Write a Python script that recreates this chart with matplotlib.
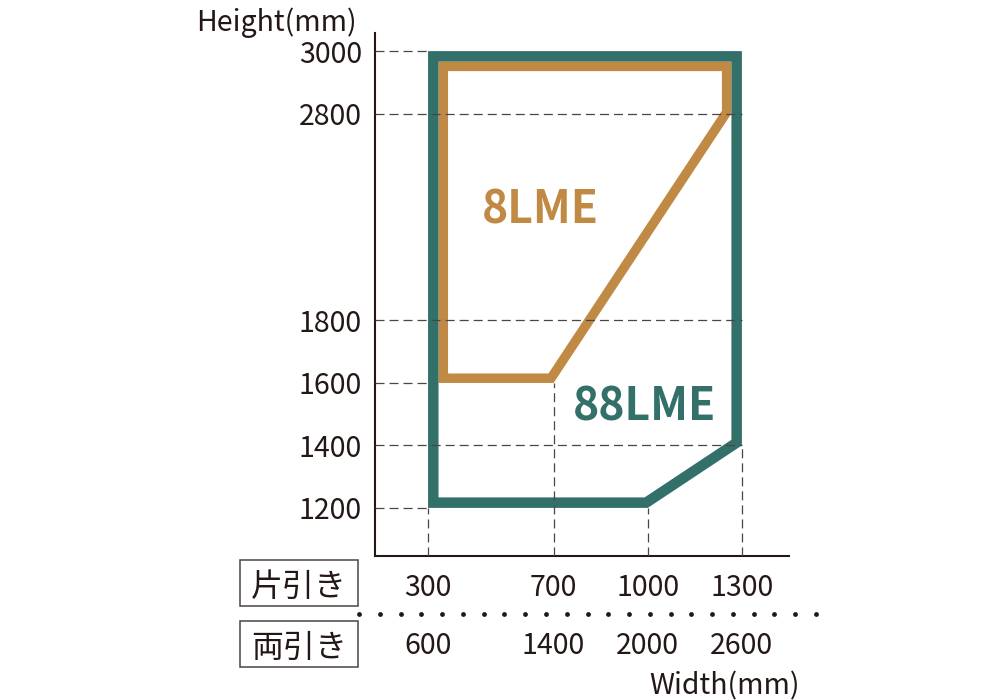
import numpy as np
import matplotlib
matplotlib.use("Agg")
import matplotlib.pyplot as plt
from matplotlib.patches import Polygon, Rectangle
from matplotlib.transforms import blended_transform_factory

plt.rcParams['font.family'] = ['Noto Sans CJK JP', 'DejaVu Sans']
plt.rcParams['lines.scale_dashes'] = False

# ---------------- data ----------------
height_ticks = [1200, 1400, 1600, 1800, 2800, 3000]
height_line_extent = [300, 1300, 300, 1300, 1300, 300]   # width to which each dashed height line reaches
width_ticks_single = [300, 700, 1000, 1300]               # 片引き
width_ticks_double = [600, 1400, 2000, 2600]              # 両引き
width_line_extent = [1200, 1600, 1200, 1400]              # height to which each dashed width line reaches

lme88_w = [300, 1000, 1300, 1300, 300]
lme88_h = [1200, 1200, 1400, 3000, 3000]
lme8_w = [300, 700, 1300, 1300, 300]
lme8_h = [1600, 1600, 2800, 3000, 3000]

row_labels = ['片引き', '両引き']
series_labels = ['8LME', '88LME']

# ---------------- style ----------------
INK = '#231815'
DASH = '#4a4646'
GREEN = '#33706a'
ORANGE = '#c08a45'
W, H = 1000, 700
FS = 20.5

fig = plt.figure(figsize=(10, 7), dpi=100)
ax = fig.add_axes([375 / W, (H - 556) / H, 414 / W, 523 / H])

# piecewise height scale (1800-2800 compressed)
_nodes = [0, 1800, 2800, 6000]
_mapped = [0, 1800, 2462.4, 5662.4]
fwd = lambda y: np.interp(y, _nodes, _mapped)
inv = lambda s: np.interp(s, _mapped, _nodes)
ax.set_yscale('function', functions=(fwd, inv))
ax.set_xlim(131, 1450)
ax.set_ylim(1046, 3058)

for s in ['top', 'right']:
    ax.spines[s].set_visible(False)
for s in ['left', 'bottom']:
    ax.spines[s].set_color(INK)
    ax.spines[s].set_linewidth(1.5)
ax.set_xticks([])
ax.set_yticks([])
ax.yaxis.set_minor_locator(matplotlib.ticker.NullLocator())
ax.set_facecolor('none')


def inset_disp(P, off):
    """Offset every edge of a CCW display-space polygon inward by `off` px."""
    n = len(P)
    lines = []
    for i in range(n):
        a, b = P[i], P[(i + 1) % n]
        d = (b - a) / np.hypot(*(b - a))
        nrm = np.array([-d[1], d[0]])
        lines.append((a + nrm * off, d))
    out = []
    for i in range(n):
        p1, d1 = lines[i - 1]
        p2, d2 = lines[i]
        A = np.array([d1, -d2]).T
        t, _ = np.linalg.solve(A, p2 - p1)
        out.append(p1 + t * d1)
    return np.array(out)


px = 0.72  # points per pixel at dpi 100
g_w = 10.5
o_w = 9.5

# green: outer edge on the data outline, stroke inside
G = ax.transData.transform(np.column_stack([lme88_w, lme88_h]))
green_pts = ax.transData.inverted().transform(inset_disp(G, g_w / 2))

# orange: vertices touching the green frame are pushed inside it
O = ax.transData.transform(np.column_stack([lme8_w, lme8_h]))
for i, (w, h) in enumerate(zip(lme8_w, lme8_h)):
    if w == min(lme88_w):
        O[i, 0] += g_w
    if w == max(lme88_w):
        O[i, 0] -= g_w
    if h == max(lme88_h):
        O[i, 1] -= g_w
orange_pts = ax.transData.inverted().transform(inset_disp(O, o_w / 2))

ax.add_patch(Polygon(orange_pts, closed=True, fill=False, edgecolor=ORANGE,
                     lw=o_w * px, joinstyle='miter', zorder=2))
ax.add_patch(Polygon(green_pts, closed=True, fill=False, edgecolor=GREEN,
                     lw=g_w * px, joinstyle='miter', zorder=2))

dash_style = (0, (6.5, 3.6))
x0, y0 = ax.get_xlim()[0], ax.get_ylim()[0]
for h, ext in zip(height_ticks, height_line_extent):
    ax.plot([x0, ext], [h, h], color=DASH, lw=0.9, ls=dash_style, zorder=3)
for w, ext in zip(width_ticks_single, width_line_extent):
    ax.plot([w, w], [y0, ext], color=DASH, lw=0.9, ls=dash_style, zorder=3)

# y tick labels
ytr = blended_transform_factory(fig.transFigure, ax.transData)
for h in height_ticks:
    ax.text(362 / W, h, str(h), transform=ytr, ha='right', va='center_baseline',
            fontsize=FS, color=INK)

# x tick labels (two rows)
xtr = blended_transform_factory(ax.transData, fig.transFigure)
for w in width_ticks_single:
    ax.text(w, 1 - 584 / H, str(w), transform=xtr, ha='center', va='center_baseline',
            fontsize=FS, color=INK, clip_on=False)
for w1, w2 in zip(width_ticks_single, width_ticks_double):
    ax.text(w1, 1 - 643 / H, str(w2), transform=xtr, ha='center', va='center_baseline',
            fontsize=FS, color=INK, clip_on=False)

# row label boxes
for lab, (top, bot) in zip(row_labels, [(560, 606), (621, 667)]):
    fig.patches.append(Rectangle((240 / W, 1 - bot / H), 118 / W, (bot - top) / H,
                                 transform=fig.transFigure, fill=False,
                                 edgecolor='#4a4545', lw=1.1))
    fig.text(299 / W, 1 - (top + bot) / 2 / H, lab, ha='center', va='center_baseline',
             fontsize=23, color=INK)

# dotted separator
dots_x = np.linspace(359, 816, 23)
fig.add_artist(plt.Line2D(dots_x / W, np.full_like(dots_x, 1 - 614 / H), ls='none',
                          marker='o', ms=4.8 * px, mfc=INK, mec='none',
                          transform=fig.transFigure))

# axis titles
fig.text(196 / W, 1 - 19 / H, 'Height(mm)', ha='left', va='center_baseline', fontsize=FS, color=INK)
fig.text(800 / W, 1 - 683 / H, 'Width(mm)', ha='right', va='center_baseline', fontsize=FS, color=INK)

# series labels
ax.text(0.3986, 0.671, series_labels[0], transform=ax.transAxes, ha='center',
        va='center_baseline', fontsize=32, fontweight='bold', color=ORANGE)
ax.text(0.652, 0.294, series_labels[1], transform=ax.transAxes, ha='center',
        va='center_baseline', fontsize=32, fontweight='bold', color=GREEN)

fig.savefig('out.png', dpi=100)
